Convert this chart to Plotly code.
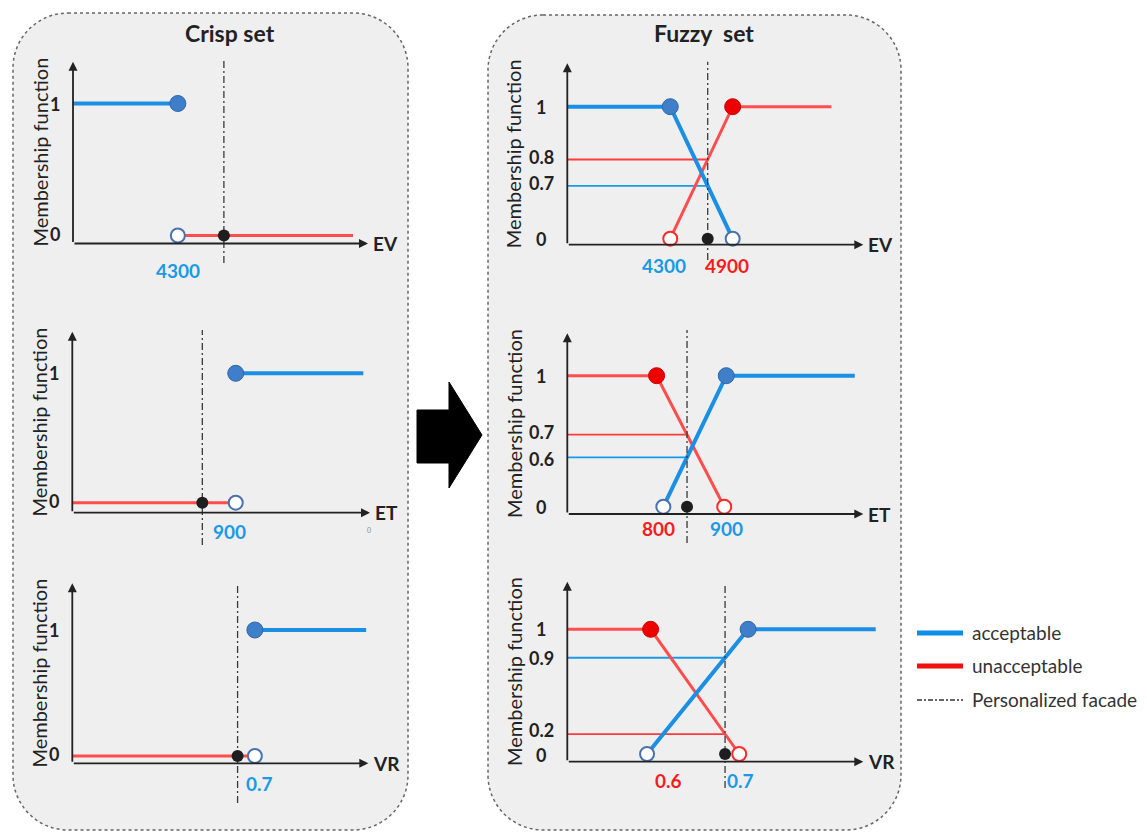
import numpy as np
import plotly.graph_objects as go

# ======================= DATA =======================
# EV panel (crisp)
ev_crisp_acc_x = [3480, 4300]
ev_crisp_acc_y = [1, 1]
ev_crisp_unacc_x = [4300, 5670]
ev_crisp_unacc_y = [0, 0]
ev_crisp_acc_filled = ([4300], [1])
ev_crisp_acc_open = ([4300], [0])
ev_facade = 4660
ev_crisp_xlabels = [("4300", "acc")]

# EV panel (fuzzy)
ev_fuzzy_acc_x = [3310, 4300, 4900]
ev_fuzzy_acc_y = [1, 1, 0]
ev_fuzzy_unacc_x = [4300, 4900, 5850]
ev_fuzzy_unacc_y = [0, 1, 1]
ev_fuzzy_acc_filled = ([4300], [1])
ev_fuzzy_acc_open = ([4900], [0])
ev_fuzzy_unacc_filled = ([4900], [1])
ev_fuzzy_unacc_open = ([4300], [0])
ev_fuzzy_level_labels = {"unacc": "0.8", "acc": "0.7"}
ev_fuzzy_xlabels = [("4300", "acc"), ("4900", "unacc")]

# ET panel (crisp)
et_crisp_acc_x = [900, 1110]
et_crisp_acc_y = [1, 1]
et_crisp_unacc_x = [631, 900]
et_crisp_unacc_y = [0, 0]
et_crisp_acc_filled = ([900], [1])
et_crisp_acc_open = ([900], [0])
et_facade = 845
et_crisp_xlabels = [("900", "acc")]

# ET panel (fuzzy)
et_fuzzy_acc_x = [810, 903, 1093]
et_fuzzy_acc_y = [0, 1, 1]
et_fuzzy_unacc_x = [668, 800, 900]
et_fuzzy_unacc_y = [1, 1, 0]
et_fuzzy_acc_filled = ([903], [1])
et_fuzzy_acc_open = ([810], [0])
et_fuzzy_unacc_filled = ([800], [1])
et_fuzzy_unacc_open = ([900], [0])
et_fuzzy_level_labels = {"unacc": "0.7", "acc": "0.6"}
et_fuzzy_xlabels = [("800", "unacc"), ("900", "acc")]

# VR panel (crisp)
vr_crisp_acc_x = [0.700, 0.803]
vr_crisp_acc_y = [1, 1]
vr_crisp_unacc_x = [0.531, 0.700]
vr_crisp_unacc_y = [0, 0]
vr_crisp_acc_filled = ([0.700], [1])
vr_crisp_acc_open = ([0.700], [0])
vr_facade = 0.684
vr_crisp_xlabels = [("0.7", "acc")]

# VR panel (fuzzy)
vr_fuzzy_acc_x = [0.596, 0.710, 0.854]
vr_fuzzy_acc_y = [0, 1, 1]
vr_fuzzy_unacc_x = [0.506, 0.600, 0.700]
vr_fuzzy_unacc_y = [1, 1, 0]
vr_fuzzy_acc_filled = ([0.710], [1])
vr_fuzzy_acc_open = ([0.596], [0])
vr_fuzzy_unacc_filled = ([0.600], [1])
vr_fuzzy_unacc_open = ([0.700], [0])
vr_fuzzy_level_labels = {"acc": "0.9", "unacc": "0.2"}
vr_fuzzy_xlabels = [("0.6", "unacc"), ("0.7", "acc")]

y_tick_labels = ["0", "1"]
titles = ["Crisp set", "Fuzzy\u00a0 set"]
legend_labels = ["acceptable", "unacceptable", "Personalized facade"]

panels = [
    dict(name="EV", acc=(ev_crisp_acc_x, ev_crisp_acc_y), unacc=(ev_crisp_unacc_x, ev_crisp_unacc_y),
         filled={"acc": ev_crisp_acc_filled}, open={"acc": ev_crisp_acc_open},
         facade=ev_facade, levels={}, xlabels=ev_crisp_xlabels),
    dict(name="ET", acc=(et_crisp_acc_x, et_crisp_acc_y), unacc=(et_crisp_unacc_x, et_crisp_unacc_y),
         filled={"acc": et_crisp_acc_filled}, open={"acc": et_crisp_acc_open},
         facade=et_facade, levels={}, xlabels=et_crisp_xlabels),
    dict(name="VR", acc=(vr_crisp_acc_x, vr_crisp_acc_y), unacc=(vr_crisp_unacc_x, vr_crisp_unacc_y),
         filled={"acc": vr_crisp_acc_filled}, open={"acc": vr_crisp_acc_open},
         facade=vr_facade, levels={}, xlabels=vr_crisp_xlabels),
    dict(name="EV", acc=(ev_fuzzy_acc_x, ev_fuzzy_acc_y), unacc=(ev_fuzzy_unacc_x, ev_fuzzy_unacc_y),
         filled={"acc": ev_fuzzy_acc_filled, "unacc": ev_fuzzy_unacc_filled},
         open={"acc": ev_fuzzy_acc_open, "unacc": ev_fuzzy_unacc_open},
         facade=ev_facade, levels=ev_fuzzy_level_labels, xlabels=ev_fuzzy_xlabels),
    dict(name="ET", acc=(et_fuzzy_acc_x, et_fuzzy_acc_y), unacc=(et_fuzzy_unacc_x, et_fuzzy_unacc_y),
         filled={"acc": et_fuzzy_acc_filled, "unacc": et_fuzzy_unacc_filled},
         open={"acc": et_fuzzy_acc_open, "unacc": et_fuzzy_unacc_open},
         facade=et_facade, levels=et_fuzzy_level_labels, xlabels=et_fuzzy_xlabels),
    dict(name="VR", acc=(vr_fuzzy_acc_x, vr_fuzzy_acc_y), unacc=(vr_fuzzy_unacc_x, vr_fuzzy_unacc_y),
         filled={"acc": vr_fuzzy_acc_filled, "unacc": vr_fuzzy_unacc_filled},
         open={"acc": vr_fuzzy_acc_open, "unacc": vr_fuzzy_unacc_open},
         facade=vr_facade, levels=vr_fuzzy_level_labels, xlabels=vr_fuzzy_xlabels),
]

# ======================= LAYOUT (pixels) =======================
W, H = 1147, 833
OFFX, OFFY = 8, 8          # page body margin
FW, FH = W - OFFX, H - OFFY
FONT = "Lato"

BLUE = "#1a8fe3"
RED = "#ff4d4d"
BLUE_TXT = "#1a9ae6"
RED_TXT = "#f51c1c"
INK = "#222222"

frames = [
    dict(ox=73, tx=368, xo=3480, xt=5787, y0=235.5, y1=103.5, ax=243.5, top=61.7, fac=(60, 263),
         dom=(22, 402, 50, 284), title_dx=-33, tick_dx=-18, xl_dy=[-34.5], xl_dx=[0],
         lvl_dy={}, zero_dy=2),
    dict(ox=72.3, tx=370, xo=631, xt=1121, y0=502.7, y1=373.3, ax=512.7, top=331.7, fac=(330, 545),
         dom=(22, 402, 322, 553), title_dx=-33, tick_dx=-18, xl_dy=[-29], xl_dx=[-6],
         lvl_dy={}, zero_dy=2),
    dict(ox=72.3, tx=368.3, xo=0.531, xt=0.805, y0=756, y1=630, ax=763.3, top=583.3, fac=(583, 803),
         dom=(22, 402, 575, 810), title_dx=-33, tick_dx=-18, xl_dy=[-27.3], xl_dx=[5],
         lvl_dy={}, zero_dy=2),
    dict(ox=567.3, tx=863.3, xo=3310, xt=6156, y0=238.7, y1=106.7, ax=244.7, top=63.3, fac=(61.7, 260),
         dom=(498, 897, 50, 284), title_dx=-54, tick_dx=-26, xl_dy=[-27, -27], xl_dx=[-6, -6],
         lvl_dy={"unacc": 3, "acc": 3}, zero_dy=0),
    dict(ox=567.3, tx=863.3, xo=668, xt=1105.6, y0=506.7, y1=375.7, ax=514, top=333.3, fac=(330, 543),
         dom=(498, 897, 322, 553), title_dx=-54, tick_dx=-26, xl_dy=[-21.6, -21.6], xl_dx=[2, 2],
         lvl_dy={"unacc": 3, "acc": -2}, zero_dy=0),
    dict(ox=567.3, tx=863.3, xo=0.506, xt=0.840, y0=754, y1=629.3, ax=761.7, top=581.7, fac=(583, 788),
         dom=(498, 897, 574, 810), title_dx=-54, tick_dx=-26, xl_dy=[-26, -26], xl_dx=[18, 1],
         lvl_dy={"unacc": 4, "acc": 0}, zero_dy=-1),
]


def px(x):
    return (x - OFFX) / FW


def py(y):
    return 1 - (y - OFFY) / FH


fig = go.Figure()
shapes = []
annotations = []
layout_axes = {}

series_style = {
    "acc": dict(color=BLUE, width=4),
    "unacc": dict(color=RED, width=3),
}
filled_style = {
    "acc": dict(color="#3f7fc9", line=dict(color="#2e66a8", width=1)),
    "unacc": dict(color="#ee0000", line=dict(color="#cc0000", width=1)),
}
open_edge = {"acc": "#4a72ad", "unacc": "#ff2a2a"}
level_color = {"acc": "#1a9ae6", "unacc": "#ff3b3b"}
txt_color = {"acc": BLUE_TXT, "unacc": RED_TXT}
TICK_FONT = dict(family=FONT, size=18, color=INK, weight="bold")

for i, (pn, fr) in enumerate(zip(panels, frames)):
    n = i + 1
    xr = "x" if n == 1 else f"x{n}"
    yr = "y" if n == 1 else f"y{n}"
    kx = (fr["xt"] - fr["xo"]) / (fr["tx"] - fr["ox"])

    def xv(p, fr=fr, kx=kx):
        return fr["xo"] + (p - fr["ox"]) * kx

    def yv(p, fr=fr):
        return (fr["y0"] - p) / (fr["y0"] - fr["y1"])

    d = fr["dom"]
    layout_axes["xaxis" if n == 1 else f"xaxis{n}"] = dict(
        domain=[px(d[0]), px(d[1])], range=[xv(d[0]), xv(d[1])], visible=False,
        fixedrange=True, anchor=yr)
    layout_axes["yaxis" if n == 1 else f"yaxis{n}"] = dict(
        domain=[py(d[3]), py(d[2])], range=[yv(d[3]), yv(d[2])], visible=False,
        fixedrange=True, anchor=xr)

    # level lines (fuzzy): membership of each series at the facade value
    for key, lab in pn["levels"].items():
        sx, sy = pn[key]
        lvl = float(np.interp(pn["facade"], sx, sy))
        fig.add_trace(go.Scatter(x=[fr["xo"], pn["facade"]], y=[lvl, lvl], mode="lines",
                                 line=dict(color=level_color[key], width=1.8),
                                 xaxis=xr, yaxis=yr, showlegend=False, hoverinfo="skip"))
        annotations.append(dict(x=fr["xo"], y=lvl, xref=xr, yref=yr, text=lab, showarrow=False,
                                xshift=fr["tick_dx"], yshift=fr["lvl_dy"].get(key, 0),
                                xanchor="center", yanchor="middle", font=TICK_FONT))

    # membership lines
    for key in ["unacc", "acc"]:
        sx, sy = pn[key]
        fig.add_trace(go.Scatter(x=sx, y=sy, mode="lines", line=series_style[key],
                                 xaxis=xr, yaxis=yr, showlegend=False, hoverinfo="skip"))

    # facade line
    fig.add_trace(go.Scatter(x=[pn["facade"], pn["facade"]], y=[yv(fr["fac"][1]), yv(fr["fac"][0])],
                             mode="lines", line=dict(color="#3a3a3a", width=1.3, dash="7px,3px,2px,3px"),
                             xaxis=xr, yaxis=yr, showlegend=False, hoverinfo="skip"))

    # markers
    for key, (mx, my) in pn["open"].items():
        fig.add_trace(go.Scatter(x=mx, y=my, mode="markers",
                                 marker=dict(size=14, color="white",
                                             line=dict(color=open_edge[key], width=2)),
                                 xaxis=xr, yaxis=yr, showlegend=False, hoverinfo="skip"))
    for key, (mx, my) in pn["filled"].items():
        fig.add_trace(go.Scatter(x=mx, y=my, mode="markers",
                                 marker=dict(size=16, **filled_style[key]),
                                 xaxis=xr, yaxis=yr, showlegend=False, hoverinfo="skip"))
    fig.add_trace(go.Scatter(x=[pn["facade"]], y=[0], mode="markers",
                             marker=dict(size=12, color="#1e1e1e"),
                             xaxis=xr, yaxis=yr, showlegend=False, hoverinfo="skip"))

    # axes with arrows
    ya = yv(fr["ax"])
    annotations.append(dict(x=fr["xt"], y=ya, ax=fr["xo"], ay=ya, xref=xr, yref=yr, axref=xr, ayref=yr,
                            text="", showarrow=True, arrowhead=2, arrowsize=1, arrowwidth=1.8,
                            arrowcolor=INK, standoff=0, startstandoff=0))
    annotations.append(dict(x=fr["xo"], y=yv(fr["top"]), ax=fr["xo"], ay=ya, xref=xr, yref=yr,
                            axref=xr, ayref=yr, text="", showarrow=True, arrowhead=2, arrowsize=1,
                            arrowwidth=1.8, arrowcolor=INK, standoff=0, startstandoff=0))
    annotations.append(dict(x=fr["xt"], y=ya, xref=xr, yref=yr, text=pn["name"], showarrow=False,
                            xanchor="left", yanchor="middle", xshift=3,
                            font=dict(family=FONT, size=19, color=INK, weight="bold")))
    # y title
    annotations.append(dict(x=fr["xo"], y=yv((fr["top"] + fr["ax"]) / 2), xref=xr, yref=yr,
                            text="Membership function", showarrow=False, textangle=-90,
                            xshift=fr["title_dx"], xanchor="center", yanchor="middle",
                            font=dict(family=FONT, size=20, color=INK)))
    # y ticks 0 / 1
    for t in y_tick_labels:
        annotations.append(dict(x=fr["xo"], y=float(t), xref=xr, yref=yr, text=t, showarrow=False,
                                xshift=fr["tick_dx"], yshift=fr["zero_dy"] if t == "0" else 0,
                                xanchor="center", yanchor="middle", font=TICK_FONT))
    # x value labels
    for (lab, key), dy, dx in zip(pn["xlabels"], fr["xl_dy"], fr["xl_dx"]):
        annotations.append(dict(x=float(lab), y=0, xref=xr, yref=yr, text=lab, showarrow=False,
                                xshift=dx, yshift=dy, xanchor="center", yanchor="middle",
                                font=dict(family=FONT, size=19, color=txt_color[key], weight="bold")))


# ---- panel boxes ----
def rounded_rect(x0, y0, x1, y1, r):
    k = 0.5523 * r
    pts = [("M", [(x0 + r, y0)]), ("L", [(x1 - r, y0)]),
           ("C", [(x1 - r + k, y0), (x1, y0 + r - k), (x1, y0 + r)]), ("L", [(x1, y1 - r)]),
           ("C", [(x1, y1 - r + k), (x1 - r + k, y1), (x1 - r, y1)]), ("L", [(x0 + r, y1)]),
           ("C", [(x0 + r - k, y1), (x0, y1 - r + k), (x0, y1 - r)]), ("L", [(x0, y0 + r)]),
           ("C", [(x0, y0 + r - k), (x0 + r - k, y0), (x0 + r, y0)])]
    s = ""
    for cmd, ps in pts:
        s += cmd + " ".join(f"{px(a):.5f},{py(b):.5f}" for a, b in ps) + " "
    return s + "Z"


for box in [(13, 13, 408, 830), (488, 15, 901, 830)]:
    shapes.append(dict(type="path", xref="paper", yref="paper", path=rounded_rect(*box, 55),
                       fillcolor="#efefef", line=dict(color="#666666", width=1.5, dash="dot"),
                       layer="below"))

# ---- block arrow ----
arrow_pts = [(417, 410), (449, 410), (449, 382), (482, 435), (449, 488), (449, 463), (417, 463)]
path = "M" + " L".join(f"{px(a):.5f},{py(b):.5f}" for a, b in arrow_pts) + " Z"
shapes.append(dict(type="path", xref="paper", yref="paper", path=path, fillcolor="black",
                   line=dict(color="black", width=1)))

# ---- titles ----
for t, cx in zip(titles, [230, 704]):
    annotations.append(dict(x=px(cx), y=py(33), xref="paper", yref="paper", text=t, showarrow=False,
                            xanchor="center", yanchor="middle",
                            font=dict(family=FONT, size=23, color=INK, weight="bold")))

# ---- legend ----
leg_rows = [633, 666, 700]
leg_line_styles = [dict(color="#0b8fe8", width=5), dict(color="#f01010", width=5),
                   dict(color="#333333", width=1.3, dash="5px,2px,2px,2px")]
for lab, yy, ls in zip(legend_labels, leg_rows, leg_line_styles):
    shapes.append(dict(type="line", xref="paper", yref="paper", x0=px(917), x1=px(963),
                       y0=py(yy), y1=py(yy), line=ls))
    annotations.append(dict(x=px(970), y=py(yy - 1), xref="paper", yref="paper", text=lab,
                            showarrow=False, xanchor="left", yanchor="middle",
                            font=dict(family=FONT, size=19, color="#333333")))

# tiny artifact mark in crisp ET panel
annotations.append(dict(x=px(365), y=py(530), xref="paper", yref="paper", text="0", showarrow=False,
                        font=dict(family=FONT, size=7, color="#888888")))

fig.update_layout(width=FW, height=FH, margin=dict(l=0, r=0, t=0, b=0),
                  paper_bgcolor="white", plot_bgcolor="rgba(0,0,0,0)",
                  shapes=shapes, annotations=annotations, showlegend=False, **layout_axes)

fig.write_html("out.html")
